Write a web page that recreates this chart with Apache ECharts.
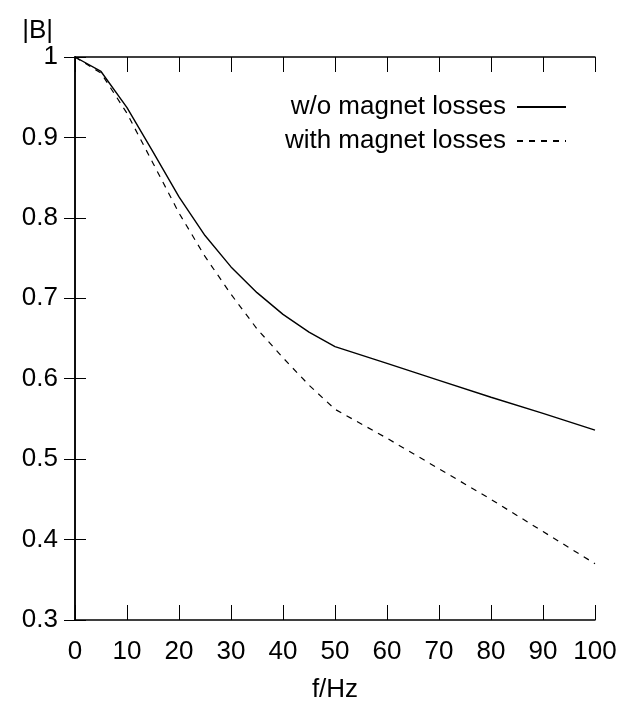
<!DOCTYPE html>
<html>
<head><meta charset="utf-8"></head>
<body style="margin:0">
  <div id="main" style="width: 621px; height: 709px"></div>
  <script src="https://cdn.jsdelivr.net/npm/echarts@6/dist/echarts.min.js"></script>
  <script>
    // frequencies (Hz)
    var freq = [0, 5, 10, 15, 20, 25, 30, 35, 40, 45, 50, 60, 70, 80, 90, 100];
    // |B| without magnet losses
    var noLoss = [1.0, 0.982, 0.937, 0.882, 0.826, 0.778, 0.739, 0.707, 0.68, 0.658, 0.64, 0.619, 0.598, 0.577, 0.557, 0.536];
    // |B| with magnet losses
    var withLoss = [1.0, 0.98, 0.93, 0.868, 0.806, 0.752, 0.705, 0.662, 0.626, 0.592, 0.562, 0.526, 0.488, 0.45, 0.41, 0.37];
    var xTicks = [0, 10, 20, 30, 40, 50, 60, 70, 80, 90, 100];
    var yTicks = [0.3, 0.4, 0.5, 0.6, 0.7, 0.8, 0.9, 1];

    var font = "Liberation Sans";
    var fs = 26;
    var pair = function (ys) {
      return freq.map((f, i) => [f, ys[i]]);
    };

    var myChart = echarts.init(document.getElementById("main"));
    var axisLine = { show: true, lineStyle: { color: "#000", width: 1.5 } };
    var option = {
      animation: false,
      backgroundColor: "#fff",
      textStyle: { fontFamily: font },
      grid: { left: 75, right: 26, top: 57, bottom: 89 },
      legend: {
        orient: "vertical",
        right: 54,
        top: 94,
        padding: 0,
        align: "right",
        itemWidth: 49,
        itemHeight: 14,
        itemGap: 8,
        itemStyle: { opacity: 0 },
        textStyle: { fontSize: fs, color: "#000", fontFamily: font, padding: [0, 6, 0, 0] },
        data: ["w/o magnet losses", "with magnet losses"],
      },
      xAxis: [
        {
          type: "value",
          min: xTicks[0],
          max: xTicks[xTicks.length - 1],
          interval: 10,
          name: "f/Hz",
          nameLocation: "middle",
          nameGap: 57,
          nameTextStyle: { fontSize: fs, color: "#000" },
          axisLine: axisLine,
          axisTick: { inside: true, length: 15, lineStyle: { color: "#000" } },
          axisLabel: { fontSize: fs, color: "#000", margin: 19 },
          splitLine: { show: false },
        },
        {
          type: "value",
          position: "top",
          min: xTicks[0],
          max: xTicks[xTicks.length - 1],
          interval: 10,
          axisLine: axisLine,
          axisTick: { inside: true, length: 15, lineStyle: { color: "#000" } },
          axisLabel: { show: false },
          splitLine: { show: false },
        },
      ],
      yAxis: [
        {
          type: "value",
          min: yTicks[0],
          max: yTicks[yTicks.length - 1],
          interval: 0.1,
          name: "|B|",
          nameLocation: "end",
          nameGap: 12,
          nameTextStyle: { fontSize: fs, color: "#000", align: "right", padding: [0, 22, 0, 0] },
          axisLine: axisLine,
          axisTick: { inside: true, length: 11, lineStyle: { color: "#000" } },
          axisLabel: {
            fontSize: fs,
            color: "#000",
            margin: 17,
            formatter: (v) => +v.toFixed(1) + "",
          },
          splitLine: { show: false },
        },
        {
          type: "value",
          position: "right",
          min: yTicks[0],
          max: yTicks[yTicks.length - 1],
          interval: 0.1,
          axisLine: axisLine,
          axisTick: { inside: true, length: 11, lineStyle: { color: "#000" } },
          axisLabel: { show: false },
          splitLine: { show: false },
        },
      ],
      series: [
        {
          name: "w/o magnet losses",
          type: "line",
          symbol: "none",
          data: pair(noLoss),
          lineStyle: { color: "#000", width: 1.4 },
          itemStyle: { color: "#000" },
        },
        {
          name: "with magnet losses",
          type: "line",
          symbol: "none",
          data: pair(withLoss),
          lineStyle: { color: "#000", width: 1.2, type: [6, 6] },
          itemStyle: { color: "#000" },
        },
      ],
    };
    myChart.setOption(option);
  </script>
</body>
</html>
